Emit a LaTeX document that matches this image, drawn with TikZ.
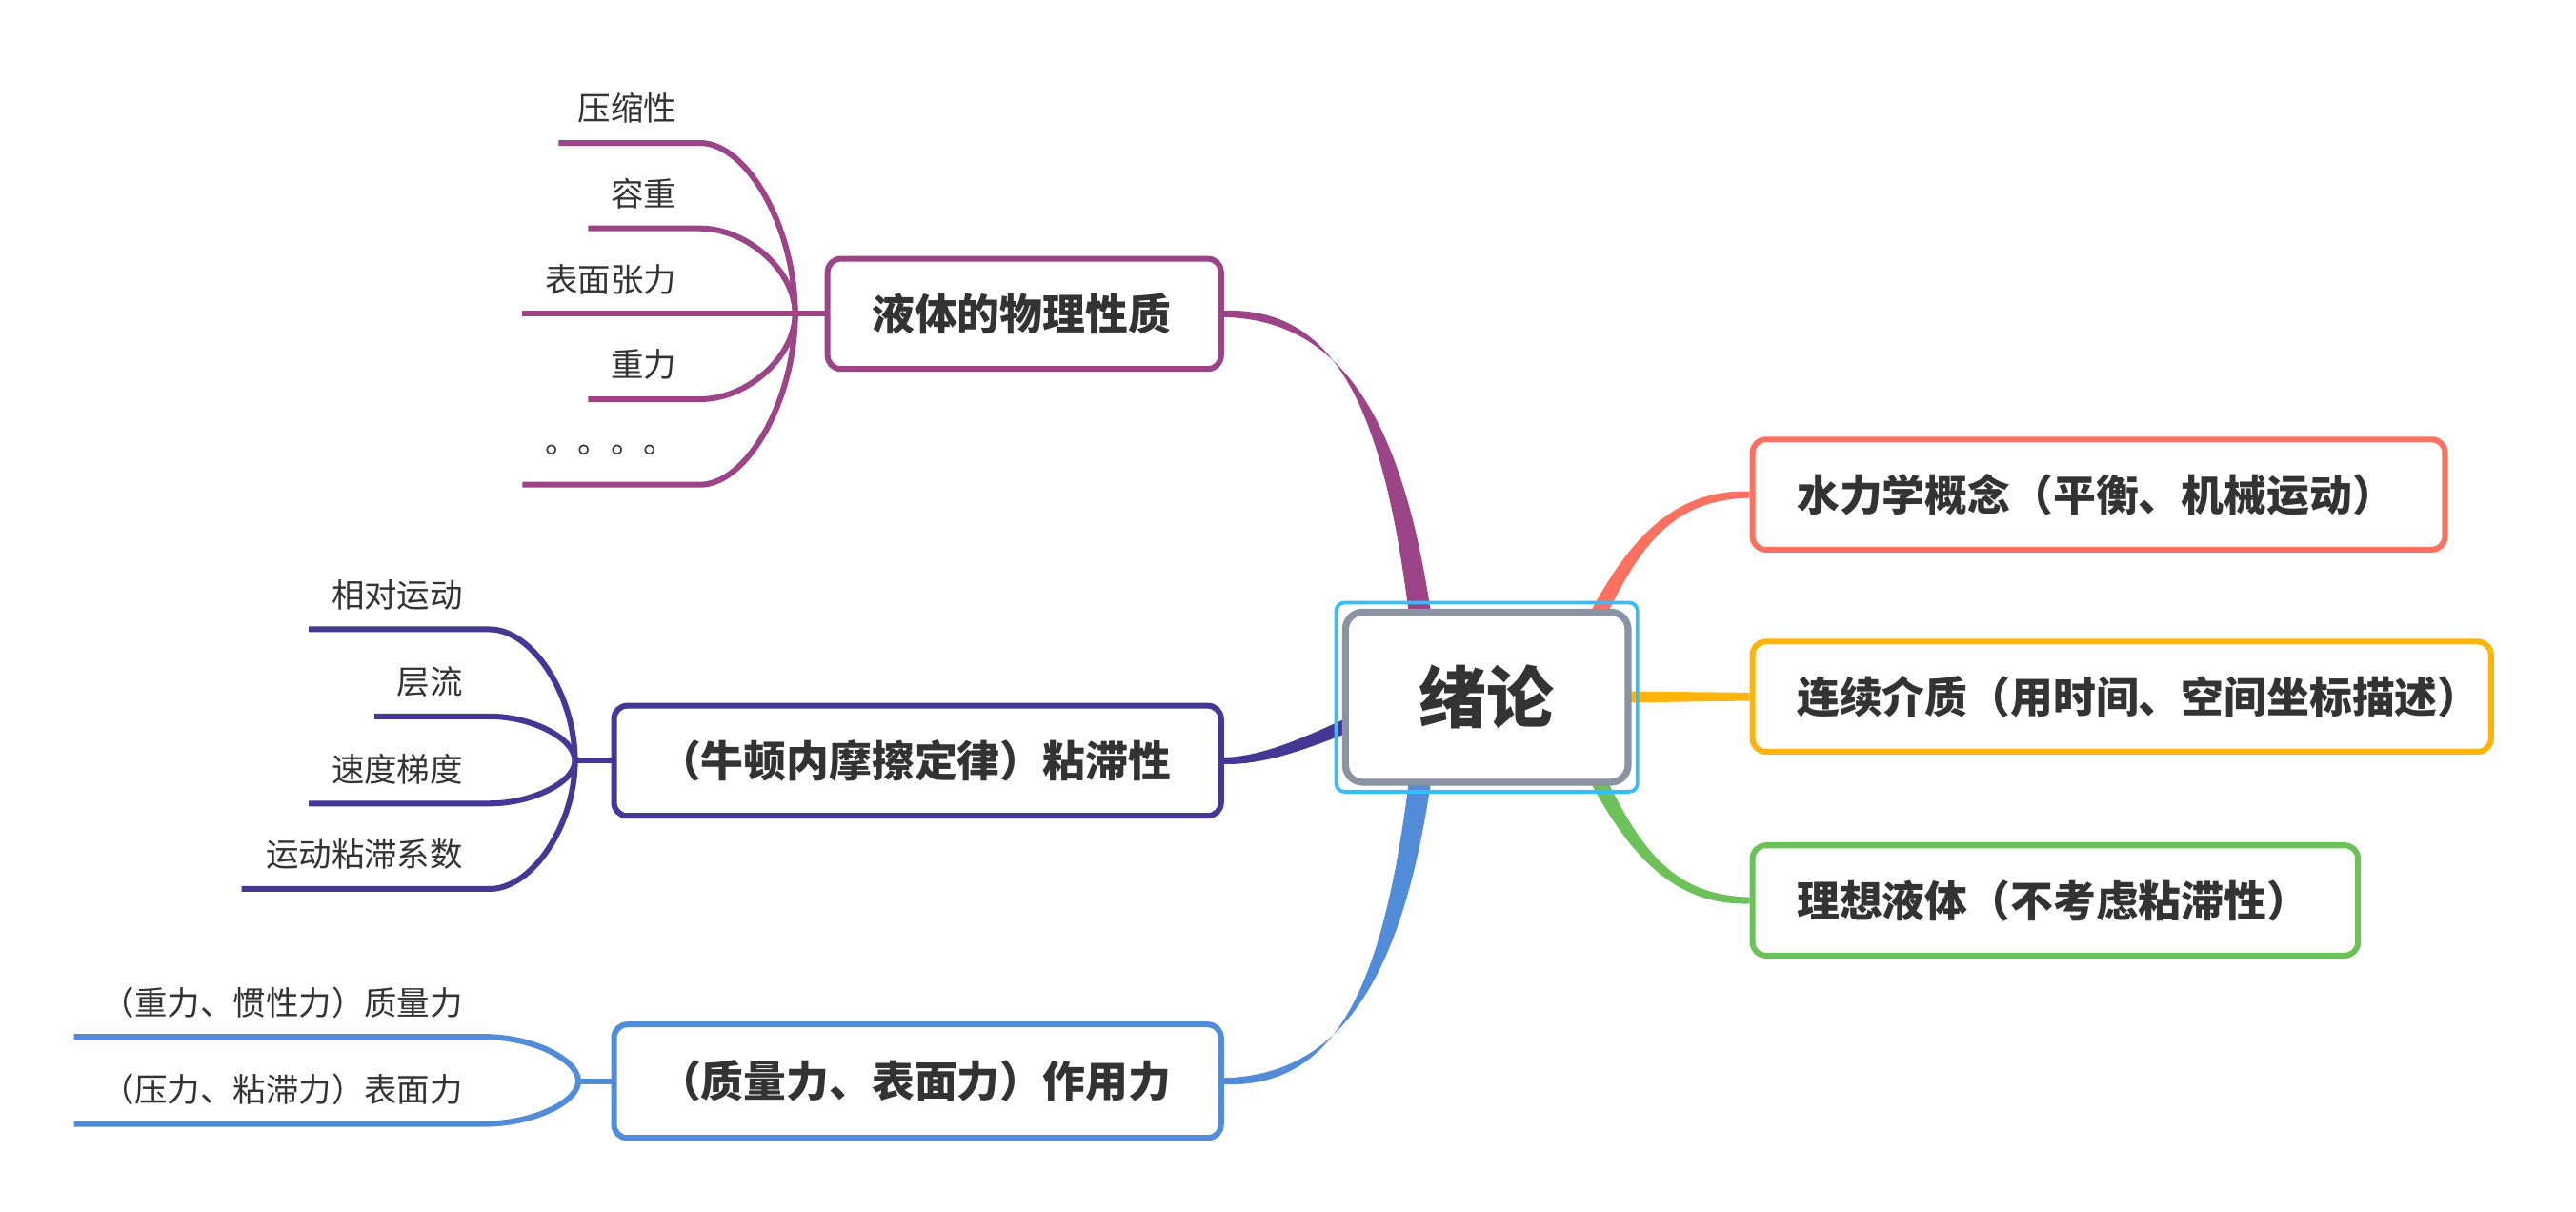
\documentclass[tikz,border=0pt]{standalone}
\usepackage{fontspec}
\newfontfamily\cjk{Noto Sans CJK SC}
\usetikzlibrary{calc,backgrounds}
\definecolor{cPur}{RGB}{155,68,135}
\definecolor{cInd}{RGB}{68,56,148}
\definecolor{cBlu}{RGB}{82,140,216}
\definecolor{cRed}{RGB}{254,112,96}
\definecolor{cOra}{RGB}{255,180,12}
\definecolor{cGrn}{RGB}{108,194,88}
\definecolor{cGry}{RGB}{138,147,163}
\definecolor{cSel}{RGB}{51,190,255}
\definecolor{cTxt}{RGB}{51,51,51}
% #1 colour, #2 coordinate name, #3 start x, #4 line y, #5 end of straight part, #6 junction name
\newcommand\mytwig[6]{%
  \coordinate (#2) at (#3,#4);
  \draw[twigline,#1] (#2) -- (#5,#4) .. controls ({#5+0.5*(\jx-#5)},#4) and (\jx,{#4+0.5*(\jy-#4)}) .. (#6);
}
\begin{document}
\begin{tikzpicture}[x=1pt,y=-1pt,
  topic/.style={draw=#1, line width=3.5pt, rounded corners=8pt, fill=white, text=cTxt,
    font=\cjk\bfseries\fontsize{26}{30}\selectfont, inner xsep=27pt, inner ysep=0pt,
    minimum height=67pt, align=left},
  sub/.style={text=cTxt, font=\cjk\fontsize{20}{24}\selectfont, inner sep=0pt, anchor=east},
  twigline/.style={line width=3.5pt},
]
\useasboundingbox (0,0) rectangle (1568,737.6);

% central topic
\node[draw=cGry, line width=4.2pt, rounded corners=10.5pt, fill=white, text=cTxt,
  minimum width=172pt, minimum height=103.5pt, inner sep=0pt,
  font=\cjk\bfseries\fontsize{41}{46}\selectfont] (ctr) at (905,424.3) {绪论};
\node[draw=cSel, line width=2.2pt, rounded corners=5pt, minimum width=183.4pt,
  minimum height=115pt, inner sep=0pt] (sel) at (ctr.center) {};

% main topics
\node[topic=cPur, text width=185.5pt] (phys) at (623.5,191) {液体的物理性质};
\node[topic=cInd, text width=315.5pt] (visc) at (558.5,463) {（牛顿内摩擦定律）粘滞性};
\node[topic=cBlu, text width=315.5pt, minimum height=69pt] (forc) at (558.5,658) {（质量力、表面力）作用力};
\node[topic=cRed, text width=367.5pt] (hyd) at (1277.5,301) {水力学概念（平衡、机械运动）};
\node[topic=cOra, text width=395.5pt] (cont) at (1291.5,424) {连续介质（用时间、空间坐标描述）};
\node[topic=cGrn, text width=314.5pt] (ideal) at (1251,548) {理想液体（不考虑粘滞性）};

% subtopic labels
\node[sub] (p1) at (412,66) {压缩性};
\node[sub] (p2) at (412,118) {容重};
\node[sub] (p3) at (412,170) {表面张力};
\node[sub] (p4) at (412,222) {重力};
\node[sub] (p5) at (412,274) {。。。。};
\node[sub] (v1) at (282,362) {相对运动};
\node[sub] (v2) at (282,415) {层流};
\node[sub] (v3) at (282,468) {速度梯度};
\node[sub] (v4) at (282,520) {运动粘滞系数};
\node[sub] (f1) at (282,610) {（重力、惯性力）质量力};
\node[sub] (f2) at (282,663) {（压力、粘滞力）表面力};

\coordinate (pj) at (484,191);
\coordinate (vj) at (350,463);
\coordinate (fj) at (352,658);

\begin{scope}[on background layer]
% purple branch
\def\jx{484}\def\jy{191}
\mytwig{cPur}{ps1}{340}{87}{426}{pj}
\mytwig{cPur}{ps2}{358}{139}{426}{pj}
\mytwig{cPur}{ps3}{318}{191}{426}{pj}
\mytwig{cPur}{ps4}{358}{243}{426}{pj}
\mytwig{cPur}{ps5}{318}{295}{426}{pj}
\draw[twigline,cPur] (pj) -- (phys.west);
% indigo branch
\def\jx{350}\def\jy{463}
\mytwig{cInd}{vs1}{188}{383}{298}{vj}
\mytwig{cInd}{vs2}{228}{436}{298}{vj}
\mytwig{cInd}{vs3}{188}{489}{298}{vj}
\mytwig{cInd}{vs4}{147}{541}{298}{vj}
\draw[twigline,cInd] (vj) -- (visc.west);
% blue branch
\def\jx{352}\def\jy{658}
\mytwig{cBlu}{fs1}{45}{631}{295}{fj}
\mytwig{cBlu}{fs2}{45}{684}{295}{fj}
\draw[twigline,cBlu] (fj) -- (forc.west);

% tapered main connectors
\fill[cPur] ($(ctr.center)+(-42,0)$) .. controls ($(phys.east)+(103,69)$) and ($(phys.east)+(75,-4)$) .. ($(phys.east)+(0,-2)$)
  -- ($(phys.east)+(0,2)$) .. controls ($(phys.east)+(75,4)$) and ($(phys.east)+(117,69)$) .. ($(ctr.center)+(-28,0)$) -- cycle;
\fill[cBlu] ($(ctr.center)+(-42,0)$) .. controls ($(forc.east)+(103,-68)$) and ($(forc.east)+(75,4)$) .. ($(forc.east)+(0,2)$)
  -- ($(forc.east)+(0,-2)$) .. controls ($(forc.east)+(75,-4)$) and ($(forc.east)+(117,-68)$) .. ($(ctr.center)+(-28,0)$) -- cycle;
\fill[cInd] ($(ctr.center)+(-35,-10)$) .. controls ($(visc.east)+(75,-28)$) and ($(visc.east)+(35,-3)$) .. ($(visc.east)+(0,-2)$)
  -- ($(visc.east)+(0,2)$) .. controls ($(visc.east)+(35,3)$) and ($(visc.east)+(75,-18)$) .. ($(ctr.center)+(-35,2)$) -- cycle;
\fill[cRed] ($(ctr.center)+(39,0)$) .. controls ($(hyd.west)+(-86,39)$) and ($(hyd.west)+(-55,-3.5)$) .. ($(hyd.west)+(0,-2)$)
  -- ($(hyd.west)+(0,2)$) .. controls ($(hyd.west)+(-55,3.5)$) and ($(hyd.west)+(-74,39)$) .. ($(ctr.center)+(51,0)$) -- cycle;
\fill[cGrn] ($(ctr.center)+(39,0)$) .. controls ($(ideal.west)+(-86,-40)$) and ($(ideal.west)+(-55,3.5)$) .. ($(ideal.west)+(0,2)$)
  -- ($(ideal.west)+(0,-2)$) .. controls ($(ideal.west)+(-55,-3.5)$) and ($(ideal.west)+(-74,-40)$) .. ($(ctr.center)+(51,0)$) -- cycle;
\fill[cOra] ($(ctr.center)+(40,-4)$) -- ($(cont.west)+(0,-2.5)$) -- ($(cont.west)+(0,2.5)$) -- ($(ctr.center)+(40,4)$) -- cycle;
\end{scope}
\end{tikzpicture}
\end{document}
